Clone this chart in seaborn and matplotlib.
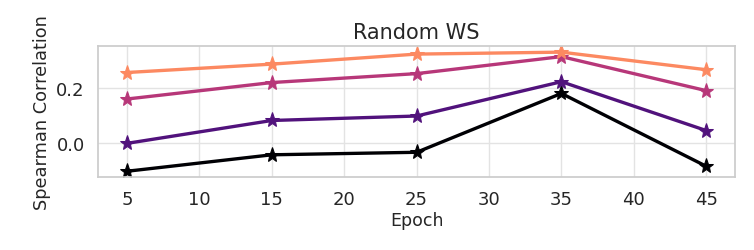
import matplotlib
matplotlib.use("Agg")
import matplotlib.pyplot as plt
import seaborn as sns
import pandas as pd
import numpy as np

epochs = [5, 15, 25, 35, 45]
series_names = ["s1", "s2", "s3", "s4"]
black_vals = [-0.100, -0.041, -0.032, 0.179, -0.082]
purple_vals = [0.000, 0.082, 0.098, 0.221, 0.046]
pink_vals = [0.159, 0.218, 0.250, 0.311, 0.189]
orange_vals = [0.254, 0.284, 0.320, 0.327, 0.264]

rows = []
for name, vals in zip(series_names, [black_vals, purple_vals, pink_vals, orange_vals]):
    for e, v in zip(epochs, vals):
        rows.append({"Epoch": e, "corr": v, "series": name})
df = pd.DataFrame(rows)

sns.set_theme(style="whitegrid", rc={"grid.color": "#e3e3e3", "axes.edgecolor": "#cccccc"})
plt.rcParams['font.family'] = ['DejaVu Sans']

cmap = matplotlib.colormaps["magma"]
colors = [cmap(x) for x in [0.0, 0.25, 0.5, 0.75]]

fig, ax = plt.subplots(figsize=(7.54, 2.51), dpi=100)
sns.lineplot(data=df, x="Epoch", y="corr", hue="series", palette=colors,
             marker="*", markersize=11, linewidth=2.4, ax=ax, legend=False)
for line, c in zip(ax.get_lines(), colors):
    line.set_markeredgecolor(c)
ax.set_title("Random WS", fontsize=15)
ax.set_xlabel("Epoch", fontsize=12.5, labelpad=2)
ax.set_ylabel("Spearman Correlation", fontsize=12.8)
ax.set_xticks([5, 10, 15, 20, 25, 30, 35, 40, 45])
ax.set_yticks([0.0, 0.2])
ax.tick_params(labelsize=13)
fig.subplots_adjust(left=0.13, right=0.975, top=0.812, bottom=0.29)
fig.savefig("out.png", dpi=100)
